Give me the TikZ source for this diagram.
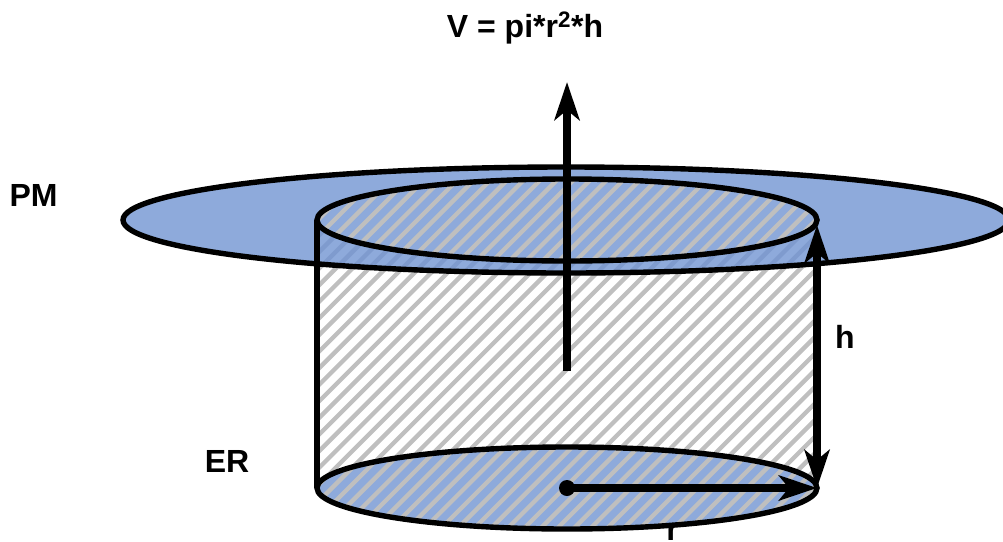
\documentclass[tikz,border=0pt]{standalone}
\usepackage{fontspec}
\setmainfont{Liberation Sans}
\usetikzlibrary{arrows.meta}
\definecolor{pmblue}{HTML}{8EAADB}
\definecolor{hatchgray}{HTML}{BFBFBF}
\definecolor{hatchblue}{HTML}{7F9BCE}
\tikzset{
  outline/.style={draw=black, line width=5.4pt},
  bigarrow/.style={line width=8pt, -{Stealth[length=38pt, width=25pt, inset=10pt]}},
  label/.style={font=\fontsize{32}{36}\selectfont\bfseries, inner sep=0pt}
}
\newcommand{\hatchlines}[1]{%
  \foreach \c in {488,504.6,...,1360} {
    \draw[#1, line width=4.3pt] (\c-150,150) -- (\c-560,560);
  }}
\newcommand{\bodypath}{(317,220) -- (817,220) -- (817,488) arc[start angle=0, end angle=-180, x radius=250pt, y radius=-41pt] -- cycle}
\begin{document}
\begin{tikzpicture}[x=1pt, y=-1pt]
  \useasboundingbox (0,0) rectangle (1003,541);
  \clip (0,0) rectangle (1003,541);
  % --- Named points ---
  \coordinate (topc) at (567,220);
  \coordinate (botc) at (567,488);
  \coordinate (stem) at (567,371);
  \coordinate (stemtip) at (567,82);
  \coordinate (htop) at (817,225);
  \coordinate (hbot) at (817,488);
  \coordinate (rtip) at (817,488);
  % --- Hatched body ---
  \begin{scope}
    \clip \bodypath;
    \hatchlines{hatchgray}
  \end{scope}
  % --- Plasma membrane disc ---
  \fill[pmblue] (566,220) ellipse [x radius=443pt, y radius=53pt];
  \begin{scope}
    \clip \bodypath;
    \clip (566,220) ellipse [x radius=443pt, y radius=53pt];
    \hatchlines{hatchblue}
  \end{scope}
  \draw[outline] (566,220) ellipse [x radius=443pt, y radius=53pt];
  % --- The r label sits under the bottom face ---
  \node[label, anchor=base] (rr) at (672.5,540) {r};
  % --- Top and bottom faces ---
  \foreach \cy in {220,488} {
    \fill[pmblue] (567,\cy) ellipse [x radius=250pt, y radius=41pt];
    \begin{scope}
      \clip (567,\cy) ellipse [x radius=250pt, y radius=41pt];
      \hatchlines{hatchgray}
    \end{scope}
    \draw[outline] (567,\cy) ellipse [x radius=250pt, y radius=41pt];
  }
  \draw[outline] (317,220) -- (317,488);
  % --- Arrows ---
  \draw[bigarrow] (stem) -- (stemtip);
  \draw[bigarrow, {Stealth[length=38pt, width=25pt, inset=10pt]}-{Stealth[length=38pt, width=25pt, inset=10pt]}] (htop) -- (hbot);
  \fill (botc) circle (8pt);
  \draw[bigarrow] (botc) -- (rtip);
  % --- Labels ---
  \node[label] (vol) at (525,28) {V = pi*r\textsuperscript{2}*h};
  \node[label] (pm) at (33.5,195) {PM};
  \node[label] (er) at (227,461) {ER};
  \node[label] (hh) at (845,337) {h};
\end{tikzpicture}
\end{document}
